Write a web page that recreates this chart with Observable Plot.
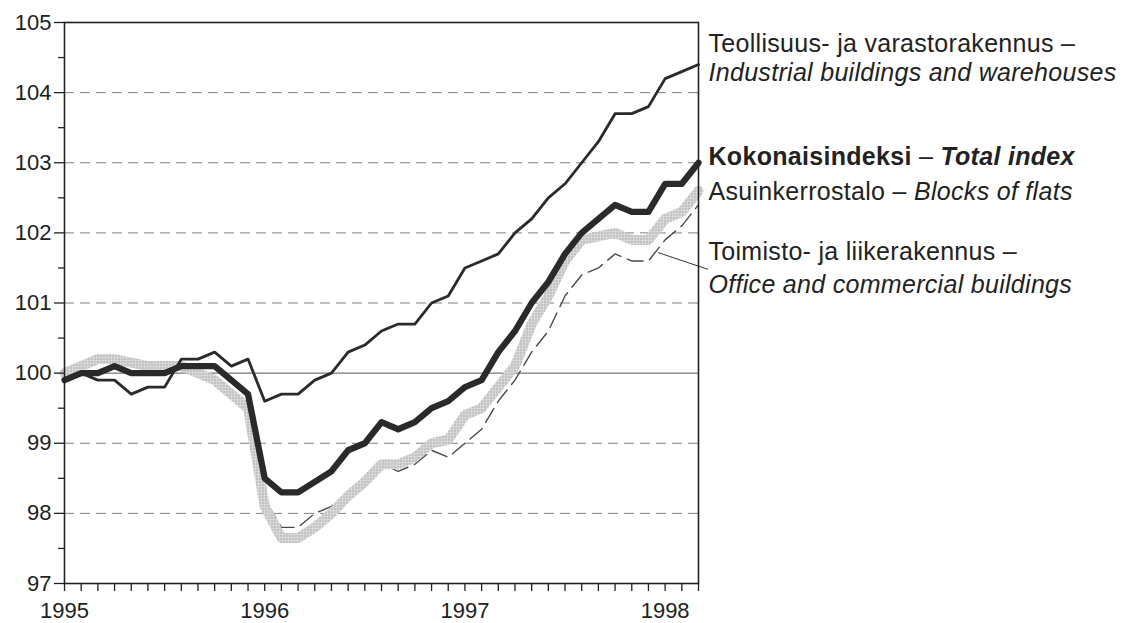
<!DOCTYPE html>
<html><head><meta charset="utf-8">
<script src="https://cdn.jsdelivr.net/npm/d3@7"></script>
<script src="https://cdn.jsdelivr.net/npm/@observablehq/plot@0.6"></script>
<style>
html,body{margin:0;padding:0;background:#fff;}
#chart{width:1135px;height:623px;overflow:hidden;}
</style></head><body><div id="chart"></div>
<script>
// ---- data (monthly index, Jan 1995 – Mar 1998) ----
const firstYear = 1995;
const years = [1995, 1996, 1997, 1998];
const yTicks = [97, 98, 99, 100, 101, 102, 103, 104, 105];
const yMinor = [97.5, 98.5, 99.5, 100.5, 101.5, 102.5, 103.5, 104.5];
const gridDashed = [98, 99, 101, 102, 103, 104];
const baseLine = [100];

const industrial = [99.9,100.0,99.9,99.9,99.7,99.8,99.8,100.2,100.2,100.3,100.1,100.2,
  99.6,99.7,99.7,99.9,100.0,100.3,100.4,100.6,100.7,100.7,101.0,101.1,
  101.5,101.6,101.7,102.0,102.2,102.5,102.7,103.0,103.3,103.7,103.7,103.8,
  104.2,104.3,104.4];
const total = [99.9,100.0,100.0,100.1,100.0,100.0,100.0,100.1,100.1,100.1,99.9,99.7,
  98.5,98.3,98.3,98.45,98.6,98.9,99.0,99.3,99.2,99.3,99.5,99.6,
  99.8,99.9,100.3,100.6,101.0,101.3,101.7,102.0,102.2,102.4,102.3,102.3,
  102.7,102.7,103.0];
const flats = [100.0,100.1,100.2,100.2,100.15,100.1,100.1,100.1,100.0,99.9,99.7,99.5,
  98.1,97.65,97.65,97.8,98.0,98.25,98.45,98.7,98.7,98.8,99.0,99.05,
  99.4,99.5,99.8,100.1,100.7,101.1,101.6,101.9,101.95,102.0,101.9,101.9,
  102.2,102.3,102.6];
const office = [100.0,100.1,100.2,100.2,100.15,100.1,100.1,100.1,100.0,99.9,99.7,99.5,
  98.2,97.8,97.8,98.0,98.1,98.3,98.5,98.7,98.6,98.7,98.9,98.8,
  99.0,99.2,99.6,99.9,100.3,100.6,101.1,101.4,101.5,101.7,101.6,101.6,
  101.9,102.1,102.4];

const labelFi = ["Teollisuus- ja varastorakennus", "Kokonaisindeksi", "Asuinkerrostalo", "Toimisto- ja liikerakennus"];
const labelEn = ["Industrial buildings and warehouses", "Total index", "Blocks of flats", "Office and commercial buildings"];
// vertical anchors of the six label lines, in index units
const labelAt = [104.70, 104.28, 103.08, 102.58, 101.73, 101.26];
// leader from office line to its label (time in years, index value)
const leader = [{x1: 1997.964, y1: 101.72, x2: 1998.214, y2: 101.48}];

// ---- build ----
const N = industrial.length;
const t = d3.range(N).map(i => firstYear + i / 12);
const rows = t.map((x, i) => ({x, industrial: industrial[i], total: total[i], flats: flats[i], office: office[i]}));
const xEnd = t[N - 1];

const B = "bold", I = "italic", R = "normal";
const labelLines = [
  [[labelFi[0] + " –", R, R]],
  [[labelEn[0], R, I]],
  [[labelFi[1], B, R], [" – ", R, R], [labelEn[1], B, I]],
  [[labelFi[2] + " – ", R, R], [labelEn[2], R, I]],
  [[labelFi[3] + " –", R, R]],
  [[labelEn[3], R, I]]
];
const labelRows = labelLines.map((segs, i) => ({text: segs.map(s => s[0]).join(""), y: labelAt[i]}));

const tickFont = "'Liberation Sans Narrow', 'Liberation Sans', sans-serif";
const labelFont = "'Liberation Sans', Arial, sans-serif";

const svg = Plot.plot({
  width: 1135, height: 623,
  marginLeft: 64, marginRight: 437, marginTop: 22, marginBottom: 40,
  style: {fontFamily: tickFont, fontSize: "22px", color: "#222", background: "#fff"},
  x: {domain: [firstYear, xEnd]},
  y: {domain: [97, 105]},
  marks: [
    Plot.ruleY(gridDashed, {stroke: "#808080", strokeWidth: 1, strokeDasharray: "10,6"}),
    Plot.ruleY(baseLine, {stroke: "#555", strokeWidth: 1}),
    Plot.line(rows, {x: "x", y: "office", stroke: "#4a4a4a", strokeWidth: 1.4, strokeDasharray: "16,7"}),
    Plot.line(rows, {x: "x", y: "flats", stroke: "url(#halftone)", strokeWidth: 10}),
    Plot.line(rows, {x: "x", y: "total", stroke: "#2a2a2a", strokeWidth: 6.3}),
    Plot.line(rows, {x: "x", y: "industrial", stroke: "#2a2a2a", strokeWidth: 2.8}),
    Plot.link(leader, {x1: "x1", y1: "y1", x2: "x2", y2: "y2", stroke: "#333", strokeWidth: 1}),
    Plot.frame({stroke: "#222", strokeWidth: 1.6}),
    Plot.axisY({ticks: yTicks, tickSize: 10, tickPadding: 3, tickFormat: d => String(d), fontSize: 22, strokeWidth: 1.3}),
    Plot.axisY({ticks: yMinor, tickSize: 6, tickFormat: () => "", strokeWidth: 1.3}),
    Plot.axisX({ticks: t, tickSize: 8, tickFormat: () => "", strokeWidth: 1.3}),
    Plot.axisX({ticks: years, tickSize: 0, tickPadding: 19, tickFormat: d => String(d), fontSize: 22}),
    Plot.text(labelRows, {frameAnchor: "right", y: "y", text: "text", textAnchor: "start", dx: 10,
      className: "series-labels", fontFamily: labelFont, fontSize: 25, fill: "#222"})
  ]
});

// halftone pattern for the blocks-of-flats band
const defs = d3.select(svg).insert("defs", ":first-child");
const pat = defs.append("pattern").attr("id", "halftone").attr("patternUnits", "userSpaceOnUse")
  .attr("width", 3).attr("height", 3);
pat.append("rect").attr("width", 3).attr("height", 3).attr("fill", "#e6e6e6");
pat.append("circle").attr("cx", 1.5).attr("cy", 1.5).attr("r", 0.95).attr("fill", "#9a9a9a");

// mixed-style label lines
d3.select(svg).selectAll(".series-labels text").each(function(_, i) {
  const el = d3.select(this);
  el.text(null).style("letter-spacing", "0.3px");
  for (const [s, w, st] of labelLines[i]) {
    el.append("tspan").attr("font-weight", w).attr("font-style", st).text(s);
  }
});

document.getElementById("chart").appendChild(svg);
</script>
</body></html>
